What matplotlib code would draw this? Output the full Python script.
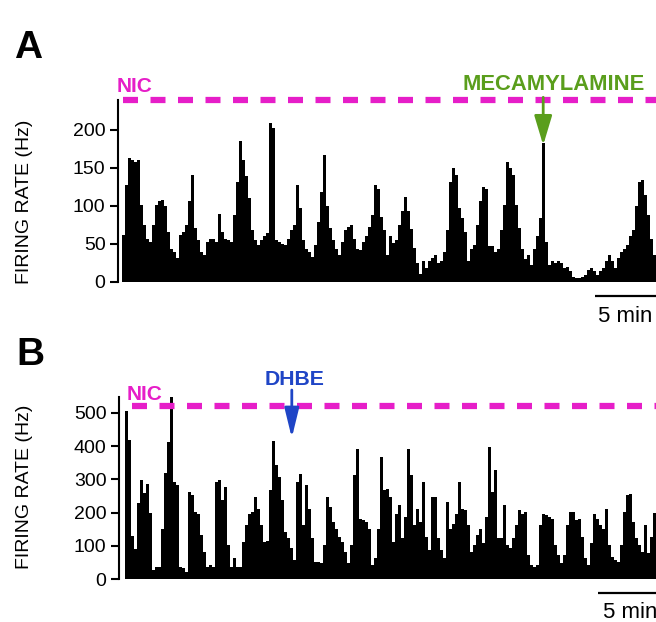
import numpy as np
import matplotlib.pyplot as plt

plt.rcParams['font.family'] = ['Liberation Sans', 'DejaVu Sans']

# firing rate histograms, 15 s bins (values in Hz)
BIN_MIN = 0.25

rate_a = [
    62, 128, 163, 160, 158, 160, 101, 75, 57, 53,
    75, 101, 107, 108, 100, 66, 44, 40, 31, 62,
    66, 75, 106, 141, 71, 55, 40, 36, 53, 57,
    57, 53, 90, 66, 56, 55, 53, 88, 132, 185,
    160, 140, 110, 68, 55, 49, 55, 60, 64, 209,
    203, 55, 53, 50, 49, 57, 68, 75, 128, 97,
    55, 44, 40, 33, 49, 79, 119, 167, 100, 71,
    55, 44, 36, 53, 68, 73, 75, 57, 44, 42,
    53, 60, 73, 88, 128, 123, 86, 68, 36, 60,
    51, 55, 75, 93, 112, 93, 70, 45, 25, 11,
    27, 18, 27, 31, 36, 25, 27, 40, 68, 132,
    150, 141, 97, 84, 66, 27, 44, 49, 75, 106,
    125, 123, 47, 47, 40, 44, 68, 101, 158, 150,
    141, 101, 71, 44, 30, 36, 22, 44, 60, 84,
    183, 53, 22, 27, 25, 27, 25, 18, 20, 14,
    7, 5, 5, 7, 9, 16, 18, 14, 9, 14,
    18, 27, 36, 27, 18, 31, 40, 44, 49, 60,
    68, 100, 132, 134, 114, 88, 57, 36,
]

rate_b = [
    507, 420, 130, 90, 230, 297, 260, 285, 200, 27,
    37, 37, 150, 320, 412, 550, 292, 282, 37, 32,
    22, 262, 252, 202, 197, 132, 80, 37, 42, 37,
    292, 297, 237, 277, 102, 37, 62, 37, 37, 112,
    162, 197, 202, 247, 212, 162, 112, 115, 267, 417,
    342, 307, 237, 142, 122, 92, 57, 292, 317, 162,
    282, 212, 122, 52, 52, 47, 102, 247, 217, 172,
    152, 127, 112, 82, 47, 102, 312, 392, 182, 177,
    172, 152, 42, 62, 152, 367, 267, 272, 247, 112,
    197, 222, 122, 187, 392, 312, 162, 212, 172, 292,
    127, 87, 247, 247, 122, 87, 62, 232, 152, 167,
    197, 292, 212, 207, 162, 82, 102, 132, 152, 107,
    187, 397, 262, 327, 122, 122, 222, 102, 92, 122,
    162, 207, 197, 202, 72, 42, 37, 42, 162, 197,
    192, 187, 182, 102, 72, 47, 72, 162, 202, 202,
    177, 182, 127, 62, 42, 107, 197, 182, 162, 152,
    212, 102, 67, 57, 52, 102, 202, 252, 257, 172,
    122, 102, 82, 162, 77, 127, 200,
]

yticks_a = [0, 50, 100, 150, 200]
yticks_b = [0, 100, 200, 300, 400, 500]

MAGENTA = "#e61ec8"
GREEN = "#5a9e1c"
BLUE = "#1f45c6"

W, H = 656, 622
fig = plt.figure(figsize=(W / 100, H / 100), dpi=100)


def px_axes(left, top, right, bottom):
    return fig.add_axes([left / W, 1 - bottom / H, (right - left) / W, (bottom - top) / H])


def ftext(x, y, s, **kw):
    fig.text(x / W, 1 - y / H, s, **kw)


def style(ax, ticks):
    for s in ("top", "right", "bottom"):
        ax.spines[s].set_visible(False)
    ax.spines["left"].set_linewidth(1.5)
    ax.set_xticks([])
    ax.set_yticks(ticks)
    ax.tick_params(axis="y", direction="out", length=6, width=1.5, labelsize=14, pad=3)


def panel(ax, rates):
    edges = np.arange(len(rates) + 1) * BIN_MIN
    ax.stairs(rates, edges, fill=True, color="black", linewidth=0)


# ---- panel A
ax_a = px_axes(118, 99.6, 656, 282)
panel(ax_a, rate_a)
ax_a.set_xlim(-4 / 12, 534 / 12)
ax_a.set_ylim(0, 240)
style(ax_a, yticks_a)
ax_a.plot([0.1, 44.5], [239, 239], color=MAGENTA, lw=4.5, ls=(0, (2.4, 2.0)),
          solid_capstyle="butt", dash_capstyle="butt", clip_on=False)
ax_a.annotate("", xy=(35.1, 180), xytext=(35.1, 243),
              arrowprops=dict(arrowstyle="-|>,head_length=0.9,head_width=0.27",
                              color=GREEN, lw=2, mutation_scale=20, shrinkA=0, shrinkB=0),
              annotation_clip=False)
ax_a.plot([39.4, 44.5], [-18.5, -18.5], color="black", lw=1.6, clip_on=False,
          solid_capstyle="butt")

# ---- panel B
ax_b = px_axes(119, 397, 656, 579)
panel(ax_b, rate_b)
ax_b.set_xlim(-6 / 12, 531 / 12)
ax_b.set_ylim(0, 548)
style(ax_b, yticks_b)
ax_b.plot([0.6, 44.25], [521, 521], color=MAGENTA, lw=4.5, ls=(0, (2.4, 2.0)),
          solid_capstyle="butt", dash_capstyle="butt", clip_on=False)
ax_b.annotate("", xy=(13.9, 425), xytext=(13.9, 569),
              arrowprops=dict(arrowstyle="-|>,head_length=0.9,head_width=0.22",
                              color=BLUE, lw=2, mutation_scale=20, shrinkA=0, shrinkB=0),
              annotation_clip=False)
ax_b.plot([39.4, 44.25], [-42, -42], color="black", lw=1.6, clip_on=False,
          solid_capstyle="butt")

# ---- labels
ftext(14, 58, "A", fontsize=28, fontweight="bold", va="baseline")
ftext(16, 365, "B", fontsize=28, fontweight="bold", va="baseline")
ftext(25, 202, "FIRING RATE (Hz)", fontsize=14, rotation=90, ha="center", va="center")
ftext(25, 487, "FIRING RATE (Hz)", fontsize=14, rotation=90, ha="center", va="center")
ftext(117, 92, "NIC", fontsize=15, fontweight="bold", color=MAGENTA, va="baseline")
ftext(127, 400, "NIC", fontsize=15, fontweight="bold", color=MAGENTA, va="baseline")
ftext(462, 90, "MECAMYLAMINE", fontsize=15.8, fontweight="bold", color=GREEN, va="baseline")
ftext(265, 385, "DHBE", fontsize=15.3, fontweight="bold", color=BLUE, va="baseline")
ftext(598, 322, "5 min", fontsize=16, va="baseline")
ftext(603, 618, "5 min", fontsize=16, va="baseline")

fig.savefig("out.png", dpi=100)
